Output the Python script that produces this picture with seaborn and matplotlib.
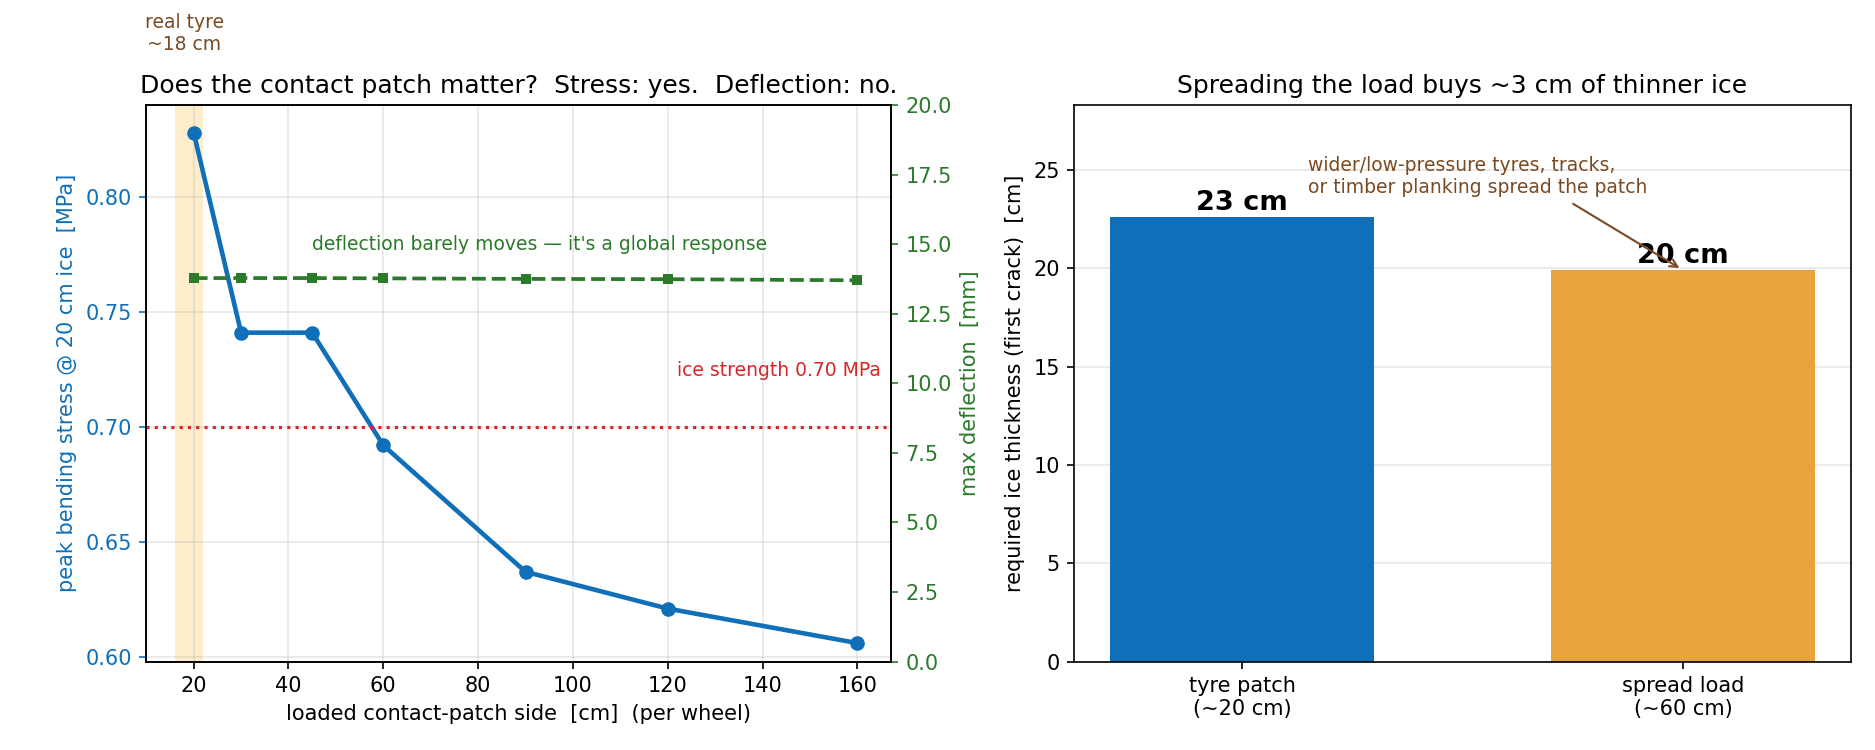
import matplotlib
matplotlib.use("Agg")
import matplotlib.pyplot as plt
import seaborn as sns
import numpy as np

sns.set_style("ticks")
plt.rcParams.update(matplotlib.rcParamsDefault)
plt.rcParams['font.family'] = ['DejaVu Sans']

patch_side = [20, 30, 45, 60, 90, 120, 160]
stress = [0.828, 0.741, 0.741, 0.692, 0.637, 0.621, 0.606]
deflection = [13.78, 13.78, 13.78, 13.77, 13.75, 13.74, 13.70]
bar_labels = ["tyre patch\n(~20 cm)", "spread load\n(~60 cm)"]
thickness = [22.6, 19.9]
bar_text = ["23 cm", "20 cm"]

blue = "#0f6fb8"; green = "#2a7a2a"; orange = "#e8a33d"; brown = "#7a4a22"; red = "#d62728"

fig = plt.figure(figsize=(12.5, 5), dpi=150)
ax = fig.add_axes([0.078, 0.118, 0.397, 0.742])
ax3 = fig.add_axes([0.573, 0.118, 0.414, 0.742])

ax.axvspan(16, 22, color="#fbd98a", alpha=0.45, lw=0)
sns.lineplot(x=patch_side, y=stress, ax=ax, color=blue, lw=2.2, marker="o", markersize=7, markeredgewidth=0)
ax.axhline(0.70, color=red, ls=":", lw=1.5)
ax.text(165, 0.722, "ice strength 0.70 MPa", color=red, fontsize=9, ha="right")
ax.set_xlim(10, 167)
ax.set_ylim(0.598, 0.840)
ax.grid(True, alpha=0.3)
ax.set_xlabel("loaded contact-patch side  [cm]  (per wheel)")
ax.set_ylabel("peak bending stress @ 20 cm ice  [MPa]", color=blue)
ax.tick_params(axis="y", colors=blue)
ax.set_title("Does the contact patch matter?  Stress: yes.  Deflection: no.")
ax.text(18, 0.862, "real tyre\n~18 cm", color=brown, fontsize=9, ha="center", va="bottom")

ax2 = ax.twinx()
sns.lineplot(x=patch_side, y=deflection, ax=ax2, color=green, lw=1.8, ls="--", marker="s", markersize=5, markeredgewidth=0)
ax2.set_ylim(0, 20)
ax2.set_ylabel("max deflection  [mm]", color=green)
ax2.tick_params(axis="y", colors=green)
ax2.text(45, 14.8, "deflection barely moves — it's a global response", color=green, fontsize=9)

sns.barplot(x=bar_labels, y=thickness, ax=ax3, palette=[blue, orange], hue=bar_labels, legend=False, width=0.6, saturation=1)
for i, (v, t) in enumerate(zip(thickness, bar_text)):
    ax3.text(i, v + 0.05, t, ha="center", va="bottom", fontsize=13, fontweight="bold", color="black")
ax3.set_xlim(-0.38, 1.38)
ax3.set_ylim(0, 28.3)
ax3.set_ylabel("required ice thickness (first crack)  [cm]")
ax3.set_title("Spreading the load buys ~3 cm of thinner ice")
ax3.grid(True, axis="y", alpha=0.3)
ax3.set_axisbelow(True)
ax3.annotate("wider/low-pressure tyres, tracks,\nor timber planking spread the patch",
             xy=(1.0, 19.9), xytext=(0.15, 23.8), color=brown, fontsize=9,
             arrowprops=dict(arrowstyle="->", color=brown, lw=1, relpos=(0.75, 0.0)))

fig.savefig("out.png", dpi=150)
